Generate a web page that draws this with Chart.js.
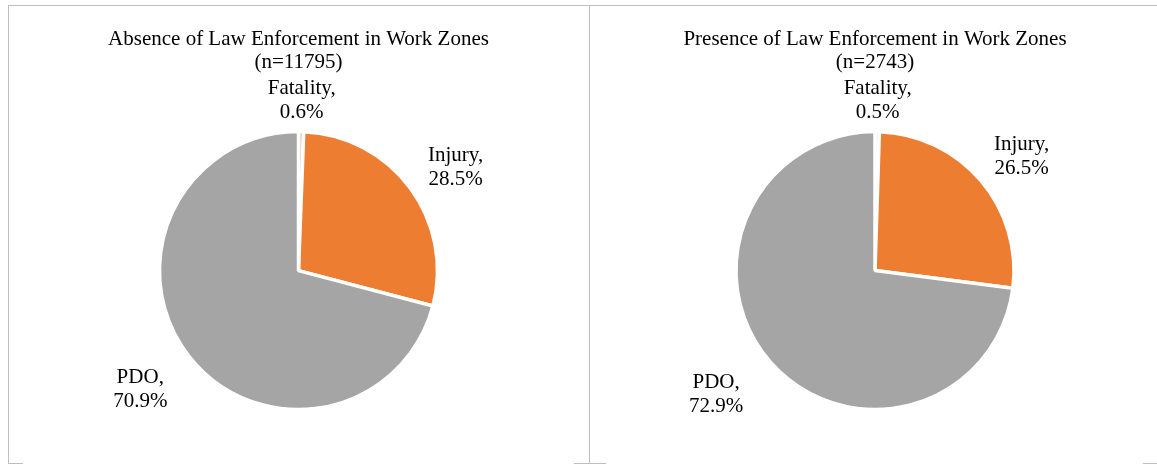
<!DOCTYPE html>
<html lang="en">
<head>
    <meta charset="UTF-8">
    <title>Law Enforcement in Work Zones</title>
    <script src="https://cdn.jsdelivr.net/npm/chart.js"></script>
    <style>
        body {
            margin: 0;
            width: 1157px;
            height: 464px;
            overflow: hidden;
            background: #fff;
            position: relative;
        }

        .box {
            position: absolute;
            top: 5px;
            height: 470px;
            border-top: 1px solid #bfbfbf;
            border-left: 1px solid #bfbfbf;
        }

        #boxLeft { left: 8px; width: 580px; }
        #boxRight { left: 589px; width: 580px; }

        .box canvas { position: absolute; left: 0; top: 0; }

        /* little bits of the bottom border that show at the edge */
        .stub {
            position: absolute;
            top: 463px;
            height: 1px;
            background: #bfbfbf;
        }
    </style>
</head>
<body>
    <div class="box" id="boxLeft"><canvas id="leftPie" width="580" height="466"></canvas></div>
    <div class="box" id="boxRight"><canvas id="rightPie" width="567" height="466"></canvas></div>
    <div class="stub" style="left:8px;width:15px"></div>
    <div class="stub" style="left:574px;width:32px"></div>
    <div class="stub" style="left:1143px;width:14px"></div>

    <script>
        // crash severity shares (%)
        const categories = ['Fatality', 'Injury', 'PDO'];
        const absenceValues = [0.6, 28.5, 70.9];
        const presenceValues = [0.5, 26.5, 72.9];
        const absenceTitle = ['Absence of Law Enforcement in Work Zones', '(n=11795)'];
        const presenceTitle = ['Presence of Law Enforcement in Work Zones', '(n=2743)'];

        const sliceColors = ['#f2b8b0', '#ed7d31', '#a5a5a5'];
        const serif = "'Liberation Serif', 'Times New Roman', serif";

        // draws "Name,\nxx.x%" outside each slice
        const outsideLabels = {
            id: 'outsideLabels',
            afterDatasetsDraw(chart, args, opts) {
                const ctx = chart.ctx;
                const arcs = chart.getDatasetMeta(0).data;
                const values = chart.data.datasets[0].data;
                ctx.save();
                ctx.fillStyle = '#000';
                ctx.font = opts.size + 'px ' + serif;
                ctx.textAlign = 'center';
                ctx.textBaseline = 'middle';
                arcs.forEach((arc, i) => {
                    const p = arc.getProps(['x', 'y', 'startAngle', 'endAngle', 'outerRadius'], true);
                    const mid = (p.startAngle + p.endAngle) / 2;
                    const r = p.outerRadius + opts.offsets[i];
                    const cx = p.x + Math.cos(mid) * r + opts.nudge[i][0];
                    const cy = p.y + Math.sin(mid) * r + opts.nudge[i][1];
                    ctx.fillText(chart.data.labels[i] + ',', cx, cy - opts.lineGap / 2);
                    ctx.fillText(values[i].toFixed(1) + '%', cx, cy + opts.lineGap / 2);
                });
                ctx.restore();
            }
        };

        function makePie(id, values, title, padding, offsets, nudge) {
            const ctx = document.getElementById(id).getContext('2d');
            return new Chart(ctx, {
                type: 'pie',
                data: {
                    labels: categories,
                    datasets: [{
                        data: values,
                        backgroundColor: sliceColors,
                        borderColor: '#ffffff',
                        borderWidth: 3.5
                    }]
                },
                options: {
                    responsive: false,
                    animation: false,
                    radius: 139,
                    layout: { padding: padding },
                    plugins: {
                        legend: { display: false },
                        tooltip: { enabled: false },
                        title: {
                            display: true,
                            text: title,
                            color: '#000',
                            font: { family: serif, size: 21, weight: 'normal', lineHeight: 1.1 },
                            padding: { top: 22, bottom: 0 }
                        },
                        outsideLabels: { size: 21, lineGap: 24, offsets: offsets, nudge: nudge }
                    }
                },
                plugins: [outsideLabels]
            });
        }

        makePie('leftPie', absenceValues, absenceTitle,
            { left: 0, right: 1, top: 0, bottom: 5 },
            [32, 49, 57], [[0, 1], [6, 9], [-3, -1]]);
        makePie('rightPie', presenceValues, presenceTitle,
            { left: 3, right: 0, top: 0, bottom: 5 },
            [32, 47, 62], [[0, 1], [5, 7], [-8, -9]]);
    </script>
</body>
</html>
